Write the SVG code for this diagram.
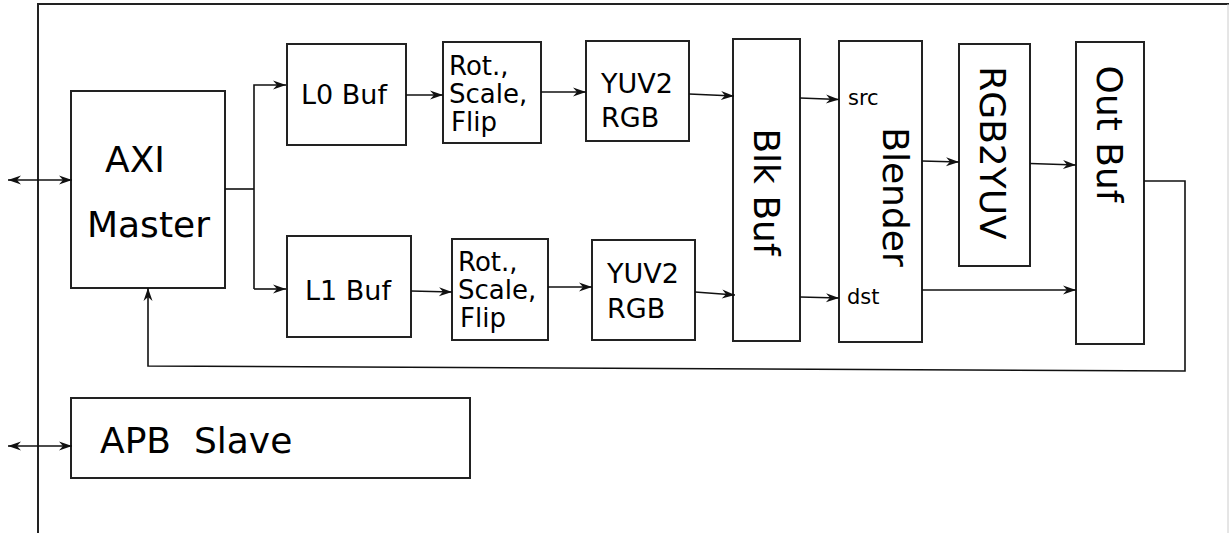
<svg xmlns="http://www.w3.org/2000/svg" width="1229" height="533" viewBox="0 0 1229 533">
<style>
.box{fill:#fff;stroke:#222;stroke-width:2}
.frame{fill:none;stroke:#222;stroke-width:2}
.ln{fill:none;stroke:#111;stroke-width:1.6}
text{font-family:"DejaVu Sans","Verdana",sans-serif;fill:#000}
.big{font-size:36px}
.mid{font-size:27px}
.rot{font-size:26px}
.sm{font-size:21px}
</style>
<defs>
<marker id="ah" markerUnits="userSpaceOnUse" markerWidth="16" markerHeight="12" viewBox="-14 -6 16 12" refX="0" refY="0" orient="auto-start-reverse">
<path d="M0,0 L-13,-4.5 L-9,0 L-13,4.5 z" fill="#111"/>
</marker>
</defs>
<rect width="1229" height="533" fill="#fff"/>
<g id="frame">
<path class="frame" d="M38,540 V4 H1229"/>
<line x1="1228" y1="4" x2="1228" y2="533" stroke="#ccc" stroke-width="1"/>
</g>
<g id="axi-master">
<rect class="box" x="71" y="91" width="154" height="197"/>
<text class="big" x="105" y="172">AXI</text>
<text class="big" x="87" y="237">Master</text>
</g>
<g id="apb-slave">
<rect class="box" x="71" y="398" width="399" height="80"/>
<text class="big" x="100" y="453" xml:space="preserve">APB  Slave</text>
</g>
<g id="l0-buf">
<rect class="box" x="287" y="44" width="119" height="101"/>
<text class="mid" x="301" y="104">L0 Buf</text>
</g>
<g id="rot0">
<rect class="box" x="443" y="42" width="98" height="101"/>
<text class="rot" x="449" y="75">Rot.,</text>
<text class="rot" x="449" y="103">Scale,</text>
<text class="rot" x="451" y="131">Flip</text>
</g>
<g id="yuv2rgb0">
<rect class="box" x="586" y="41" width="103" height="100"/>
<text class="mid" x="601" y="93">YUV2</text>
<text class="mid" x="601" y="127">RGB</text>
</g>
<g id="l1-buf">
<rect class="box" x="287" y="236" width="124" height="101"/>
<text class="mid" x="305" y="300">L1 Buf</text>
</g>
<g id="rot1">
<rect class="box" x="452" y="239" width="96" height="101"/>
<text class="rot" x="458" y="271">Rot.,</text>
<text class="rot" x="458" y="299">Scale,</text>
<text class="rot" x="460" y="327">Flip</text>
</g>
<g id="yuv2rgb1">
<rect class="box" x="592" y="240" width="103" height="100"/>
<text class="mid" x="607" y="283">YUV2</text>
<text class="mid" x="607" y="318">RGB</text>
</g>
<g id="blk-buf">
<rect class="box" x="733" y="39" width="67" height="302"/>
<text class="big" text-anchor="middle" transform="translate(754,192) rotate(90)">Blk Buf</text>
</g>
<g id="blender">
<rect class="box" x="839" y="41" width="83" height="301"/>
<text class="big" text-anchor="middle" transform="translate(883,197) rotate(90)">Blender</text>
<text class="sm" x="848" y="105">src</text>
<text class="sm" x="847" y="304">dst</text>
</g>
<g id="rgb2yuv">
<rect class="box" x="959" y="44" width="71" height="222"/>
<text class="big" text-anchor="middle" transform="translate(980,153) rotate(90)">RGB2YUV</text>
</g>
<g id="out-buf">
<rect class="box" x="1076" y="42" width="68" height="302"/>
<text class="big" text-anchor="middle" transform="translate(1097,134) rotate(90)">Out Buf</text>
</g>
<g id="connectors">
<line class="ln" x1="8" y1="180" x2="72" y2="180" marker-start="url(#ah)" marker-end="url(#ah)"/>
<line class="ln" x1="8" y1="446" x2="72" y2="446" marker-start="url(#ah)" marker-end="url(#ah)"/>
<path class="ln" d="M225,189 H254"/>
<path class="ln" d="M254,289 V85 H286" marker-end="url(#ah)"/>
<path class="ln" d="M254,289 H286" marker-end="url(#ah)"/>
<line class="ln" x1="406" y1="95" x2="443" y2="95" marker-end="url(#ah)"/>
<line class="ln" x1="541" y1="92" x2="586" y2="92" marker-end="url(#ah)"/>
<line class="ln" x1="689" y1="94" x2="734" y2="96" marker-end="url(#ah)"/>
<line class="ln" x1="411" y1="291" x2="452" y2="292" marker-end="url(#ah)"/>
<line class="ln" x1="548" y1="287" x2="592" y2="287" marker-end="url(#ah)"/>
<line class="ln" x1="695" y1="292" x2="735" y2="295" marker-end="url(#ah)"/>
<line class="ln" x1="800" y1="98" x2="839" y2="99.5" marker-end="url(#ah)"/>
<line class="ln" x1="800" y1="297" x2="839" y2="298" marker-end="url(#ah)"/>
<line class="ln" x1="922" y1="161" x2="959" y2="162" marker-end="url(#ah)"/>
<line class="ln" x1="1030" y1="163.5" x2="1076" y2="165" marker-end="url(#ah)"/>
<line class="ln" x1="922" y1="290" x2="1076" y2="290" marker-end="url(#ah)"/>
<path class="ln" d="M1144,181 H1185 V371 L148,366 V288" marker-end="url(#ah)"/>
</g>
</svg>
